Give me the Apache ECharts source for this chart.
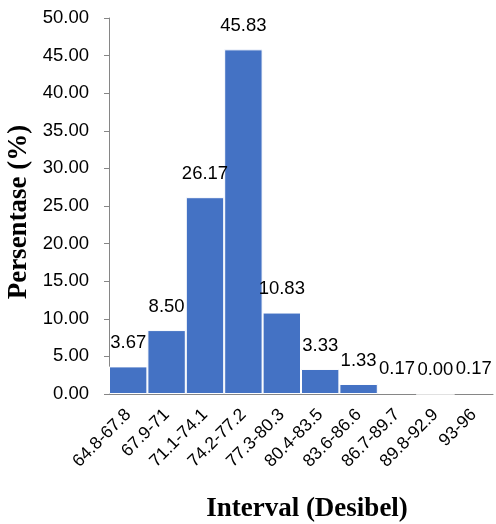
<!DOCTYPE html>
<html><head><meta charset="utf-8">
<script src="https://cdn.jsdelivr.net/npm/echarts@6/dist/echarts.min.js"></script>
<style>html,body{margin:0;padding:0;background:#fff}#c{width:496px;height:524px}</style>
</head><body><div id="c"></div>
<script>
const categories = ['64.8-67.8','67.9-71','71.1-74.1','74.2-77.2','77.3-80.3','80.4-83.5','83.6-86.6','86.7-89.7','89.8-92.9','93-96'];
const values = [3.67, 8.50, 26.17, 45.83, 10.83, 3.33, 1.33, 0.17, 0.00, 0.17];
const yTitle = 'Persentase (%)';
const xTitle = 'Interval (Desibel)';
const sans = 'Liberation Sans';
const chart = echarts.init(document.getElementById('c'));
chart.setOption({
  animation: false,
  grid: {left: 109, right: 3, top: 18, bottom: 130, containLabel: false},
  xAxis: {
    type: 'category', data: categories,
    axisLine: {lineStyle: {color: '#868686', width: 1}},
    axisTick: {show: false},
    axisLabel: {rotate: 45, margin: 18, color: '#000', fontFamily: sans, fontSize: 17.5, interval: 0}
  },
  yAxis: {
    type: 'value', min: 0, max: 50, interval: 5,
    splitLine: {show: false},
    axisLine: {show: true, lineStyle: {color: '#868686', width: 1}},
    axisTick: {show: true, length: 5, lineStyle: {color: '#868686'}},
    axisLabel: {color: '#000', fontFamily: sans, fontSize: 18.5, margin: 20, formatter: v => v.toFixed(2)}
  },
  series: [{
    type: 'bar', data: values, barCategoryGap: '0%',
    itemStyle: {color: '#4472C4', borderColor: '#fff', borderWidth: 1},
    label: {show: true, position: 'top', distance: 14, color: '#000', fontFamily: sans, fontSize: 18.5,
      formatter: p => p.value.toFixed(2)}
  }],
  graphic: [
    {type: 'text', x: 19, y: 212, rotation: Math.PI/2, style: {text: yTitle, font: 'bold 27px "Liberation Serif"', fill: '#000', align: 'center', verticalAlign: 'middle'}},
    {type: 'text', x: 307, y: 509, style: {text: xTitle, font: 'bold 27px "Liberation Serif"', fill: '#000', align: 'center', verticalAlign: 'middle'}}
  ]
});
</script></body></html>
